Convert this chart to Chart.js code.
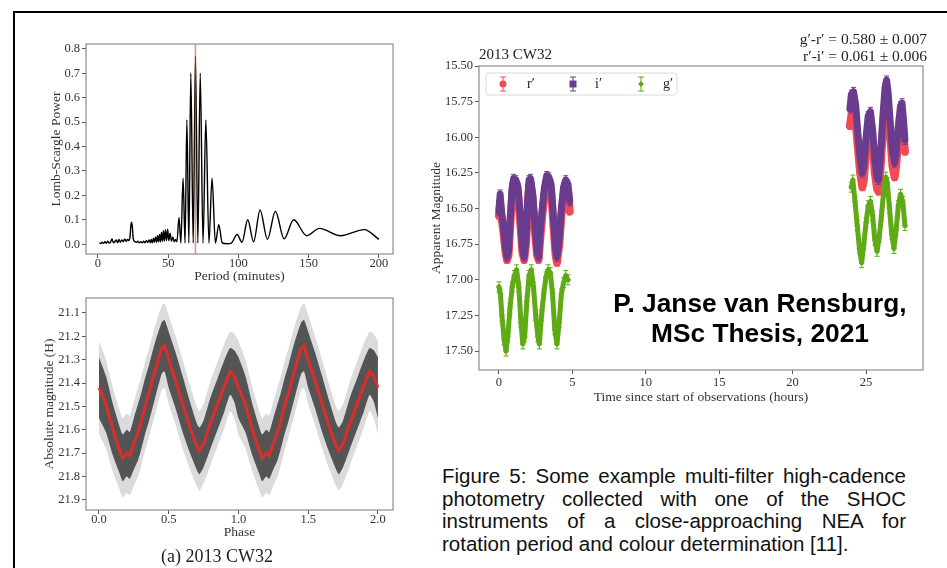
<!DOCTYPE html>
<html>
<head>
<meta charset="utf-8">
<script src="https://cdn.jsdelivr.net/npm/chart.js@4.4.1/dist/chart.umd.min.js"></script>
<style>
    body { margin: 0; background: #fff; width: 947px; height: 568px; overflow: hidden; position: relative; }
    #frame { position: absolute; left: 13px; top: 11px; width: 940px; height: 560px; border-top: 2px solid #000; border-left: 2px solid #000; }
    canvas { position: absolute; }
    .serif { position: absolute; white-space: nowrap; color: #222; font-family: 'Liberation Serif', serif; }
    #stamp { position: absolute; left: 560px; width: 400px; top: 288px; text-align: center; font: bold 26.3px 'Liberation Sans', Arial, sans-serif; line-height: 30px; color: #000; }
    #caption { position: absolute; left: 442px; width: 464px; top: 465px; font: 20.5px 'Liberation Sans', Arial, sans-serif; line-height: 22.7px; color: #111; }
    #caption .j { text-align: justify; text-align-last: justify; }
</style>
</head>
<body>
<div id="frame"></div>
<canvas id="chart1" width="390" height="260" style="left:20px;top:30px"></canvas>
<canvas id="chart2" width="390" height="260" style="left:20px;top:285px"></canvas>
<canvas id="chart3" width="527" height="380" style="left:420px;top:30px"></canvas>

<div class="serif" style="left:217px;top:546px;font-size:18px;transform:translateX(-50%)">(a) 2013 CW32</div>
<div class="serif" style="left:479px;top:46px;font-size:15px">2013 CW32</div>
<div class="serif" style="right:20px;top:30px;font-size:15.5px;text-align:right;line-height:17px">g′-r′ = 0.580 ± 0.007<br>r′-i′ = 0.061 ± 0.006</div>
<div id="stamp">P. Janse van Rensburg,<br>MSc Thesis, 2021</div>
<div id="caption">
    <div class="j">Figure 5: Some example multi-filter high-cadence</div>
    <div class="j">photometry collected with one of the SHOC</div>
    <div class="j">instruments of a close-approaching NEA for</div>
    <div>rotation period and colour determination [11].</div>
</div>

<script>
// periodogram (top left)
const periods = [1, 2, 3, 4, 5, 6, 7, 8, 9, 10, 11, 12, 13, 14, 15, 16, 17, 18, 19, 20, 21, 22, 22.8, 23.5, 24, 24.5, 25, 25.5,
    26.5, 27.5, 28.5, 29.5, 30.5, 31.5, 32.5, 33.5, 34.5, 35.5, 36.5, 37.3, 38, 38.8, 39.5, 40.2, 41, 41.7, 42.4, 43.1,
    43.8, 44.5, 45.2, 45.9, 46.6, 47.3, 48, 48.8, 49.6, 50.4, 51.3, 52.3, 53.3, 54.3, 55.3, 56.2,
    57.7, 59, 60.6, 62, 63.3, 64.7, 66.1, 67.8, 69.4, 71.1, 72.8, 74.8, 76.8, 79, 81.2, 83.6, 86, 88.5, 92, 95,
    99.1, 102.5, 106.6, 110.8, 115.4, 120.6, 126.3, 132.5, 139.3, 148.6, 157.6, 172.7, 189.6, 200]
const power = [0.005, 0.003, 0.008, 0.004, 0.010, 0.004, 0.012, 0.005, 0.009, 0.022, 0.006, 0.010, 0.018, 0.006, 0.020, 0.008, 0.018, 0.010, 0.022, 0.012, 0.020, 0.015, 0.03, 0.08, 0.09, 0.07, 0.03, 0.015,
    0.010, 0.008, 0.012, 0.006, 0.010, 0.006, 0.012, 0.006, 0.014, 0.008, 0.018, 0.006, 0.020, 0.006, 0.025, 0.008, 0.030, 0.008, 0.035, 0.010,
    0.040, 0.010, 0.048, 0.012, 0.055, 0.012, 0.060, 0.015, 0.062, 0.015, 0.045, 0.012, 0.030, 0.010, 0.020, 0.010,
    0.11, 0.005, 0.27, 0.005, 0.51, 0.005, 0.70, 0.005, 0.77, 0.005, 0.70, 0.005, 0.51, 0.005, 0.27, 0.005, 0.08, 0.005, 0.002, 0.005,
    0.04, 0.008, 0.10, 0.01, 0.14, 0.02, 0.135, 0.022, 0.10, 0.035, 0.065, 0.035, 0.06, 0.02]
const bestPeriod = 69.4
const periodTicks = [0, 50, 100, 150, 200]
const powerTicks = [0, 0.1, 0.2, 0.3, 0.4, 0.5, 0.6, 0.7, 0.8]

// folded light curve (bottom left), one rotation; plotted twice like a phase plot
const phaseCycle = [0, 0.05, 0.1, 0.15, 0.17, 0.2, 0.22, 0.25, 0.28, 0.3, 0.33, 0.36, 0.4, 0.45, 0.47, 0.5, 0.55, 0.6, 0.65, 0.7, 0.72, 0.75, 0.8, 0.85, 0.9, 0.94, 0.97]
const meanMag = [21.42, 21.49, 21.60, 21.69, 21.72, 21.70, 21.71, 21.66, 21.61, 21.57, 21.50, 21.44, 21.35, 21.25, 21.24, 21.30, 21.39, 21.49, 21.585, 21.67, 21.69, 21.66, 21.57, 21.49, 21.41, 21.35, 21.37]
const coreHalf = [0.13, 0.12, 0.11, 0.10, 0.10, 0.10, 0.10, 0.11, 0.12, 0.12, 0.12, 0.12, 0.12, 0.11, 0.11, 0.12, 0.12, 0.12, 0.11, 0.10, 0.10, 0.10, 0.11, 0.11, 0.11, 0.10, 0.11]
const spreadHalf = [0.20, 0.19, 0.18, 0.17, 0.17, 0.17, 0.17, 0.18, 0.19, 0.19, 0.19, 0.19, 0.19, 0.18, 0.18, 0.19, 0.19, 0.19, 0.18, 0.17, 0.17, 0.17, 0.18, 0.18, 0.18, 0.17, 0.18]
const phaseTicks = [0, 0.5, 1, 1.5, 2]
const absMagTicks = [21.1, 21.2, 21.3, 21.4, 21.5, 21.6, 21.7, 21.8, 21.9]

// multi-filter light curve (right)
const tRI1 = [0.0, 0.08, 0.15, 0.3, 0.45, 0.55, 0.65, 0.78, 0.9, 1.0, 1.15, 1.3, 1.45, 1.6, 1.72, 1.85, 1.95, 2.05, 2.15, 2.3, 2.45, 2.6, 2.7, 2.82, 2.95, 3.1, 3.25, 3.4, 3.55, 3.7, 3.85, 3.95, 4.1, 4.25, 4.4, 4.55, 4.7, 4.82]
const magI1 = [16.52, 16.40, 16.50, 16.62, 16.78, 16.84, 16.80, 16.55, 16.35, 16.29, 16.30, 16.35, 16.55, 16.78, 16.84, 16.70, 16.45, 16.30, 16.29, 16.40, 16.62, 16.80, 16.84, 16.65, 16.50, 16.35, 16.27, 16.28, 16.33, 16.55, 16.78, 16.84, 16.72, 16.50, 16.35, 16.30, 16.33, 16.45]
const magR1 = [16.55, 16.45, 16.55, 16.66, 16.81, 16.86, 16.83, 16.60, 16.40, 16.32, 16.33, 16.40, 16.60, 16.81, 16.86, 16.74, 16.50, 16.34, 16.32, 16.44, 16.66, 16.83, 16.86, 16.70, 16.55, 16.40, 16.31, 16.31, 16.37, 16.60, 16.82, 16.88, 16.76, 16.55, 16.40, 16.34, 16.37, 16.52]
const tG1 = [0.0, 0.1, 0.2, 0.35, 0.48, 0.6, 0.75, 0.9, 1.05, 1.2, 1.35, 1.5, 1.62, 1.75, 1.9, 2.05, 2.2, 2.35, 2.5, 2.65, 2.75, 2.9, 3.05, 3.2, 3.35, 3.5, 3.65, 3.8, 3.95, 4.1, 4.25, 4.4, 4.55, 4.7]
const magG1 = [17.05, 17.10, 17.25, 17.42, 17.50, 17.40, 17.20, 17.05, 16.97, 16.93, 17.05, 17.30, 17.45, 17.40, 17.15, 16.97, 16.93, 17.05, 17.25, 17.40, 17.45, 17.25, 17.10, 16.98, 16.93, 16.95, 17.10, 17.35, 17.45, 17.30, 17.10, 17.02, 16.97, 17.00]
const tRI2 = [23.9, 24.0, 24.15, 24.3, 24.45, 24.6, 24.75, 24.85, 25.0, 25.15, 25.3, 25.45, 25.6, 25.75, 25.85, 26.0, 26.15, 26.3, 26.4, 26.5, 26.65, 26.8, 26.95, 27.05, 27.2, 27.35, 27.45, 27.55, 27.65]
const magI2 = [15.80, 15.70, 15.68, 15.78, 15.98, 16.15, 16.25, 16.20, 16.00, 15.85, 15.82, 15.95, 16.15, 16.28, 16.30, 16.10, 15.85, 15.65, 15.60, 15.68, 15.90, 16.10, 16.18, 16.10, 15.92, 15.78, 15.76, 15.88, 16.02]
const magR2 = [15.92, 15.85, 15.82, 15.90, 16.08, 16.25, 16.35, 16.30, 16.10, 15.95, 15.92, 16.05, 16.25, 16.36, 16.38, 16.20, 15.95, 15.75, 15.70, 15.78, 16.00, 16.20, 16.28, 16.20, 16.02, 15.88, 15.86, 15.98, 16.10]
const tG2 = [24.0, 24.1, 24.25, 24.4, 24.55, 24.7, 24.85, 25.0, 25.15, 25.3, 25.45, 25.6, 25.75, 25.9, 26.05, 26.2, 26.35, 26.45, 26.6, 26.75, 26.9, 27.05, 27.2, 27.35, 27.5, 27.65]
const magG2 = [16.35, 16.30, 16.45, 16.62, 16.78, 16.88, 16.75, 16.60, 16.48, 16.45, 16.55, 16.72, 16.80, 16.70, 16.55, 16.38, 16.28, 16.32, 16.50, 16.68, 16.78, 16.65, 16.48, 16.40, 16.45, 16.62]
const errR = 0.025
const errI = 0.03
const errG = 0.035
const hourTicks = [0, 5, 10, 15, 20, 25]
const appMagTicks = [15.5, 15.75, 16, 16.25, 16.5, 16.75, 17, 17.25, 17.5]

const RED = 'rgba(240,75,85,1)'
const PURPLE = 'rgba(106,60,142,1)'
const GREEN = 'rgba(96,170,22,1)'

const tickFont = { family: "'Liberation Serif', serif", size: 12.5 }
const titleFont = { family: "'Liberation Serif', serif", size: 13.5 }

function pts(xs, ys) {
    return xs.map((x, i) => ({ x: x, y: ys[i] }))
}

function axis(min, max, tickVals, digits, title, titlePad, fitSize, horizontal, reverse, tickPad) {
    return {
        type: 'linear',
        min: min,
        max: max,
        reverse: !!reverse,
        afterBuildTicks: s => { s.ticks = tickVals.map(v => ({ value: v })) },
        afterFit: s => { if (horizontal) s.height = fitSize; else s.width = fitSize },
        grid: { display: true, drawOnChartArea: false, drawTicks: true, tickLength: 4, color: '#555' },
        border: { display: false },
        ticks: { color: '#333', font: tickFont, padding: tickPad, autoSkip: false, maxRotation: 0, callback: v => v.toFixed(digits) },
        title: { display: true, text: title, color: '#333', font: titleFont, padding: titlePad }
    }
}

// grey matplotlib-like frame round the plot area
const boxPlugin = {
    id: 'box',
    afterDraw(chart) {
        const a = chart.chartArea, c = chart.ctx
        c.save()
        c.strokeStyle = '#8c8c8c'
        c.lineWidth = 1.2
        c.strokeRect(a.left, a.top, a.right - a.left, a.bottom - a.top)
        c.restore()
    }
}
Chart.register(boxPlugin)

const errorBars = {
    id: 'errorBars',
    afterDatasetDraw(chart, args) {
        const ds = chart.data.datasets[args.index]
        if (!ds.err) return
        const c = chart.ctx, ys = chart.scales.y, a = chart.chartArea
        c.save()
        c.beginPath()
        c.rect(a.left, a.top, a.right - a.left, a.bottom - a.top)
        c.clip()
        c.strokeStyle = ds.borderColor
        c.lineWidth = 1
        args.meta.data.forEach((p, i) => {
            const v = ds.data[i].y
            const y1 = ys.getPixelForValue(v - ds.err)
            const y2 = ys.getPixelForValue(v + ds.err)
            c.beginPath()
            c.moveTo(p.x, y1); c.lineTo(p.x, y2)
            c.moveTo(p.x - 2.5, y1); c.lineTo(p.x + 2.5, y1)
            c.moveTo(p.x - 2.5, y2); c.lineTo(p.x + 2.5, y2)
            c.stroke()
        })
        c.restore()
    }
}

function drawMarker(c, style, x, y, color) {
    c.fillStyle = color
    c.strokeStyle = color
    c.lineWidth = 1
    c.beginPath()
    c.moveTo(x, y - 7); c.lineTo(x, y + 7)
    c.moveTo(x - 3, y - 7); c.lineTo(x + 3, y - 7)
    c.moveTo(x - 3, y + 7); c.lineTo(x + 3, y + 7)
    c.stroke()
    c.beginPath()
    if (style === 'circle') c.arc(x, y, 3.5, 0, Math.PI * 2)
    else if (style === 'rect') c.rect(x - 3.5, y - 3.5, 7, 7)
    else { c.moveTo(x, y - 3); c.lineTo(x + 3, y); c.lineTo(x, y + 3); c.lineTo(x - 3, y); c.closePath() }
    c.fill()
}

const legendBox = {
    id: 'legendBox',
    afterDraw(chart) {
        const a = chart.chartArea, c = chart.ctx
        const x0 = a.left + 7, y0 = a.top + 7
        c.save()
        c.beginPath()
        c.roundRect(x0, y0, 191, 22, 3)
        c.fillStyle = 'rgba(255,255,255,0.85)'
        c.fill()
        c.strokeStyle = '#dadada'
        c.lineWidth = 1
        c.stroke()
        const items = [
            { label: 'r′', style: 'circle', color: RED, mx: 24, tx: 48 },
            { label: 'i′', style: 'rect', color: PURPLE, mx: 94, tx: 116 },
            { label: 'g′', style: 'diamond', color: GREEN, mx: 162, tx: 184 }
        ]
        c.font = "14px 'Liberation Serif', serif"
        c.textBaseline = 'middle'
        items.forEach(it => {
            drawMarker(c, it.style, a.left + it.mx, y0 + 11, it.color)
            c.fillStyle = '#222'
            c.fillText(it.label, a.left + it.tx, y0 + 11)
        })
        c.restore()
    }
}

document.addEventListener('DOMContentLoaded', function () {
    chart1()
    chart2()
    chart3()
})

function chart1() {
    const ctx1 = document.getElementById('chart1')
    new Chart(ctx1, {
        type: 'line',
        data: {
            datasets: [{
                data: pts(periods, power),
                borderColor: '#000',
                borderWidth: 1.4,
                pointRadius: 0,
                cubicInterpolationMode: 'monotone',
                order: 2
            }, {
                // best period marker, drawn on top
                data: [{ x: bestPeriod, y: -0.1 }, { x: bestPeriod, y: 1 }],
                borderColor: 'rgba(230,60,60,0.6)',
                borderWidth: 1.5,
                pointRadius: 0,
                order: 1
            }]
        },
        options: {
            responsive: false,
            animation: false,
            devicePixelRatio: 1,
            layout: { padding: { left: 0, top: 14, right: 17, bottom: 0 } },
            plugins: { legend: { display: false }, tooltip: { enabled: false } },
            scales: {
                x: axis(-8.5, 210, periodTicks, 0, 'Period (minutes)', { top: 0, bottom: 5 }, 36, true, false, -2),
                y: axis(-0.04, 0.82, powerTicks, 1, 'Lomb-Scargle Power', { top: 28, bottom: 0 }, 66, false, false, 2)
            }
        }
    })
}

function chart2() {
    const ctx2 = document.getElementById('chart2')
    // fold twice over phase 0..2, closing at phase 2
    const ph = [], mid = [], coreTop = [], coreBot = [], outTop = [], outBot = []
    for (let k = 0; k < 2; k++) {
        for (let i = 0; i < phaseCycle.length; i++) {
            ph.push(phaseCycle[i] + k)
            mid.push(meanMag[i])
            coreTop.push(meanMag[i] - coreHalf[i])
            coreBot.push(meanMag[i] + coreHalf[i])
            outTop.push(meanMag[i] - spreadHalf[i])
            outBot.push(meanMag[i] + spreadHalf[i])
        }
    }
    ph.push(2); mid.push(meanMag[0]); coreTop.push(meanMag[0] - coreHalf[0]); coreBot.push(meanMag[0] + coreHalf[0])
    outTop.push(meanMag[0] - spreadHalf[0]); outBot.push(meanMag[0] + spreadHalf[0])

    const band = { borderWidth: 0, borderColor: 'rgba(0,0,0,0)', pointRadius: 0, tension: 0.2 }
    new Chart(ctx2, {
        type: 'line',
        data: {
            datasets: [
                Object.assign({ data: pts(ph, outTop), fill: false, order: 5 }, band),
                Object.assign({ data: pts(ph, outBot), fill: '-1', backgroundColor: 'rgba(0,0,0,0.14)', order: 4 }, band),
                Object.assign({ data: pts(ph, coreTop), fill: false, order: 3 }, band),
                Object.assign({ data: pts(ph, coreBot), fill: '-1', backgroundColor: 'rgba(0,0,0,0.62)', order: 2 }, band),
                { data: pts(ph, mid), borderColor: 'rgba(235,40,40,0.9)', borderWidth: 3, pointRadius: 0, fill: false, order: 1 }
            ]
        },
        options: {
            responsive: false,
            animation: false,
            devicePixelRatio: 1,
            layout: { padding: { left: 0, top: 13, right: 17, bottom: 0 } },
            plugins: { legend: { display: false }, tooltip: { enabled: false } },
            scales: {
                x: axis(-0.093, 2.108, phaseTicks, 1, 'Phase', { top: 0, bottom: 4 }, 35, true, false, -2),
                y: axis(21.036, 21.943, absMagTicks, 1, 'Absolute magnitude (H)', { top: 21, bottom: 0 }, 66, false, true, 2)
            }
        }
    })
}

function chart3() {
    const ctx3 = document.getElementById('chart3')
    function series(xs, ys, color, style, radius, width, err, order) {
        return {
            data: pts(xs, ys),
            borderColor: color,
            backgroundColor: color,
            borderWidth: width,
            borderJoinStyle: 'round',
            borderCapStyle: 'round',
            pointStyle: style,
            pointRadius: radius,
            pointBorderWidth: 0,
            err: err,
            fill: false,
            order: order
        }
    }
    // higher order is drawn first: r' under i', g' last
    new Chart(ctx3, {
        type: 'line',
        data: {
            datasets: [
                series(tRI1, magR1, RED, 'circle', 3.5, 8, errR, 3),
                series(tRI2, magR2, RED, 'circle', 3.5, 8, errR, 3),
                series(tRI1, magI1, PURPLE, 'rect', 3.5, 7, errI, 2),
                series(tRI2, magI2, PURPLE, 'rect', 3.5, 7, errI, 2),
                series(tG1, magG1, GREEN, 'rectRot', 3, 5, errG, 1),
                series(tG2, magG2, GREEN, 'rectRot', 3, 5, errG, 1)
            ]
        },
        options: {
            responsive: false,
            animation: false,
            devicePixelRatio: 1,
            layout: { padding: { left: 0, top: 36, right: 24, bottom: 0 } },
            plugins: { legend: { display: false }, tooltip: { enabled: false } },
            scales: {
                x: axis(-1.36, 28.88, hourTicks, 0, 'Time since start of observations (hours)', { top: 0, bottom: 4 }, 40, true, false, 1),
                y: axis(15.5, 17.633, appMagTicks, 2, 'Apparent Magnitude', { top: 8, bottom: 0 }, 59, false, true, 2)
            }
        },
        plugins: [errorBars, legendBox]
    })
}
</script>
</body>
</html>
